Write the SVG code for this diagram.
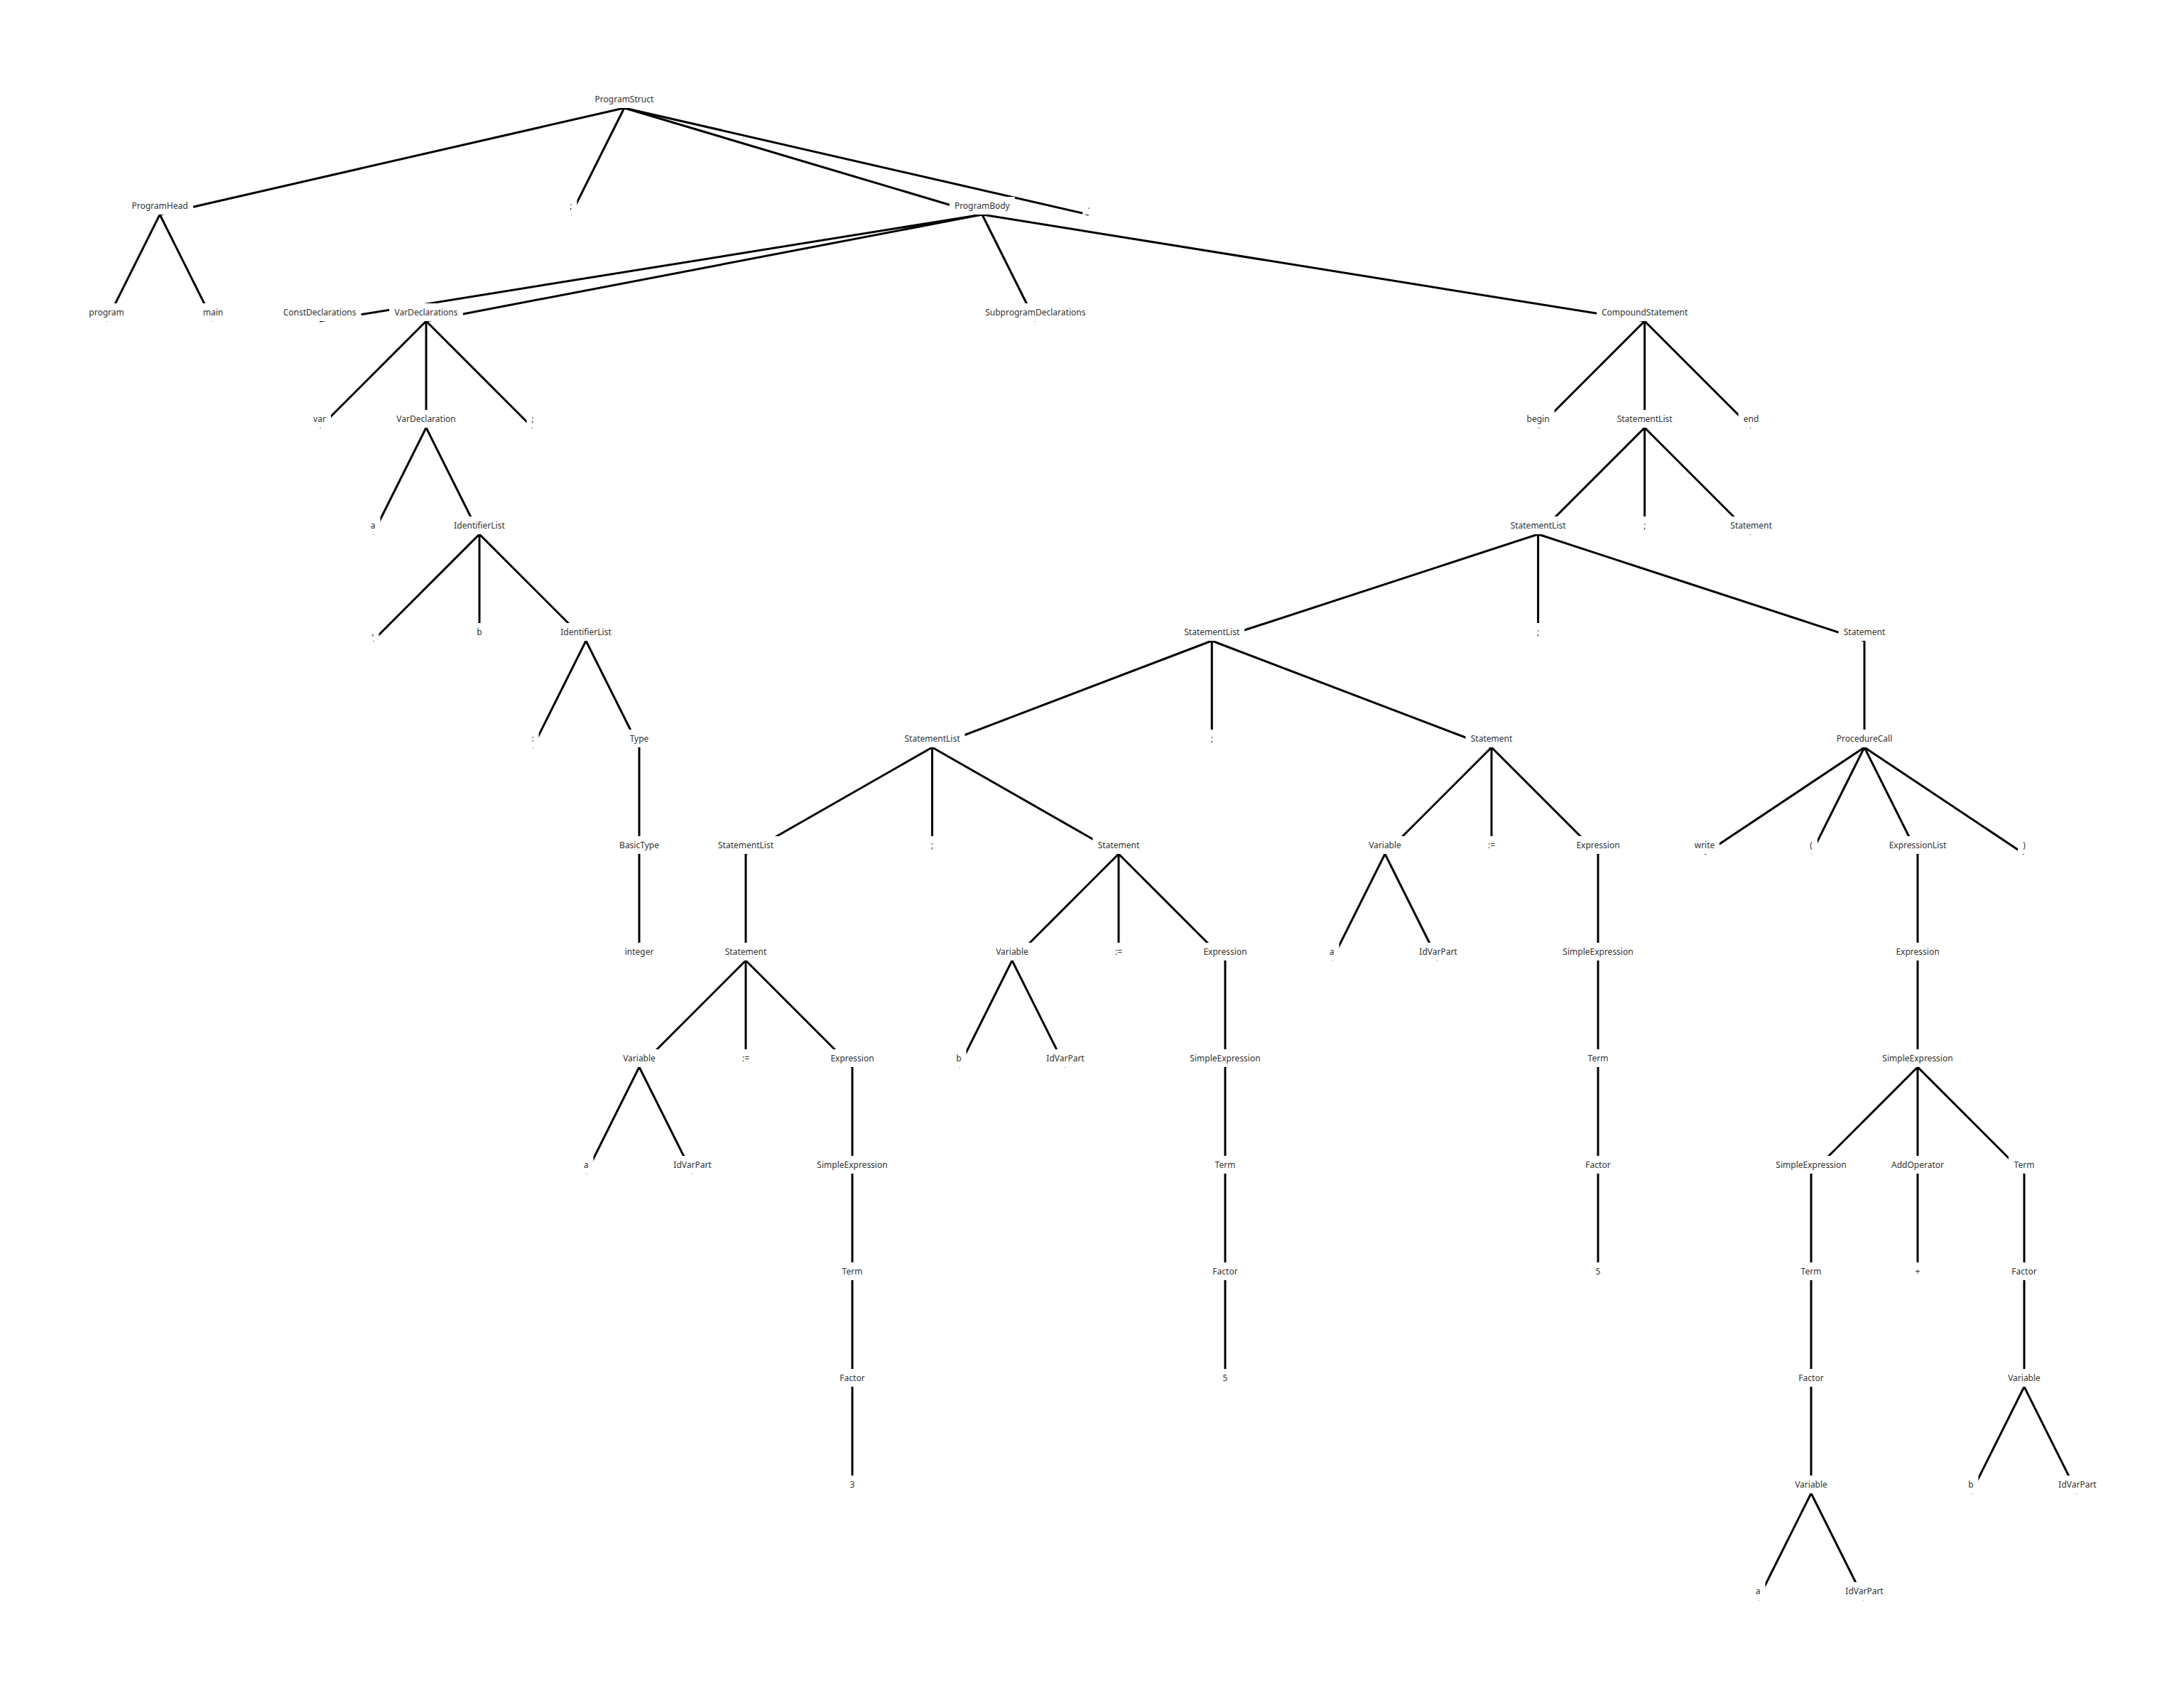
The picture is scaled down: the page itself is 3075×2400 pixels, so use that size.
<svg xmlns="http://www.w3.org/2000/svg" width="3075" height="2400" viewBox="0 0 3075 2400">
<style>
.bg{fill:#ffffff}
#edges line{stroke:#000;stroke-width:3;fill:none}
.node rect{fill:#ffffff;stroke:none}
.node text{font-family:"Noto Sans","Open Sans","Liberation Sans",sans-serif;font-size:12px;fill:#333;text-anchor:middle}
</style>
<rect class="bg" x="0" y="0" width="3075" height="2400"/>
<g id="edges">
<line x1="878.9" y1="152" x2="225" y2="302"/>
<line x1="878.9" y1="152" x2="803.9" y2="302"/>
<line x1="878.9" y1="152" x2="1382.8" y2="302"/>
<line x1="878.9" y1="152" x2="1532.8" y2="302"/>
<line x1="225" y1="302" x2="150" y2="452"/>
<line x1="225" y1="302" x2="300" y2="452"/>
<line x1="1382.8" y1="302" x2="450" y2="452"/>
<line x1="1382.8" y1="302" x2="600" y2="452"/>
<line x1="1382.8" y1="302" x2="1457.8" y2="452"/>
<line x1="1382.8" y1="302" x2="2315.6" y2="452"/>
<line x1="600" y1="452" x2="450" y2="602"/>
<line x1="600" y1="452" x2="600" y2="602"/>
<line x1="600" y1="452" x2="750" y2="602"/>
<line x1="600" y1="602" x2="525" y2="752"/>
<line x1="600" y1="602" x2="675" y2="752"/>
<line x1="675" y1="752" x2="525" y2="902"/>
<line x1="675" y1="752" x2="675" y2="902"/>
<line x1="675" y1="752" x2="825" y2="902"/>
<line x1="825" y1="902" x2="750" y2="1052"/>
<line x1="825" y1="902" x2="900" y2="1052"/>
<line x1="900" y1="1052" x2="900" y2="1202"/>
<line x1="900" y1="1202" x2="900" y2="1352"/>
<line x1="2315.6" y1="452" x2="2165.6" y2="602"/>
<line x1="2315.6" y1="452" x2="2315.6" y2="602"/>
<line x1="2315.6" y1="452" x2="2465.6" y2="602"/>
<line x1="2315.6" y1="602" x2="2165.6" y2="752"/>
<line x1="2315.6" y1="602" x2="2315.6" y2="752"/>
<line x1="2315.6" y1="602" x2="2465.6" y2="752"/>
<line x1="2165.6" y1="752" x2="1706.25" y2="902"/>
<line x1="2165.6" y1="752" x2="2165.6" y2="902"/>
<line x1="2165.6" y1="752" x2="2625" y2="902"/>
<line x1="1706.25" y1="902" x2="1312.5" y2="1052"/>
<line x1="1706.25" y1="902" x2="1706.25" y2="1052"/>
<line x1="1706.25" y1="902" x2="2100" y2="1052"/>
<line x1="1312.5" y1="1052" x2="1050" y2="1202"/>
<line x1="1312.5" y1="1052" x2="1312.5" y2="1202"/>
<line x1="1312.5" y1="1052" x2="1575" y2="1202"/>
<line x1="1050" y1="1202" x2="1050" y2="1352"/>
<line x1="1050" y1="1352" x2="900" y2="1502"/>
<line x1="1050" y1="1352" x2="1050" y2="1502"/>
<line x1="1050" y1="1352" x2="1200" y2="1502"/>
<line x1="900" y1="1502" x2="825" y2="1652"/>
<line x1="900" y1="1502" x2="975" y2="1652"/>
<line x1="1200" y1="1502" x2="1200" y2="1652"/>
<line x1="1200" y1="1652" x2="1200" y2="1802"/>
<line x1="1200" y1="1802" x2="1200" y2="1952"/>
<line x1="1200" y1="1952" x2="1200" y2="2102"/>
<line x1="1575" y1="1202" x2="1425" y2="1352"/>
<line x1="1575" y1="1202" x2="1575" y2="1352"/>
<line x1="1575" y1="1202" x2="1725" y2="1352"/>
<line x1="1425" y1="1352" x2="1350" y2="1502"/>
<line x1="1425" y1="1352" x2="1500" y2="1502"/>
<line x1="1725" y1="1352" x2="1725" y2="1502"/>
<line x1="1725" y1="1502" x2="1725" y2="1652"/>
<line x1="1725" y1="1652" x2="1725" y2="1802"/>
<line x1="1725" y1="1802" x2="1725" y2="1952"/>
<line x1="2100" y1="1052" x2="1950" y2="1202"/>
<line x1="2100" y1="1052" x2="2100" y2="1202"/>
<line x1="2100" y1="1052" x2="2250" y2="1202"/>
<line x1="1950" y1="1202" x2="1875" y2="1352"/>
<line x1="1950" y1="1202" x2="2025" y2="1352"/>
<line x1="2250" y1="1202" x2="2250" y2="1352"/>
<line x1="2250" y1="1352" x2="2250" y2="1502"/>
<line x1="2250" y1="1502" x2="2250" y2="1652"/>
<line x1="2250" y1="1652" x2="2250" y2="1802"/>
<line x1="2625" y1="902" x2="2625" y2="1052"/>
<line x1="2625" y1="1052" x2="2400" y2="1202"/>
<line x1="2625" y1="1052" x2="2550" y2="1202"/>
<line x1="2625" y1="1052" x2="2700" y2="1202"/>
<line x1="2625" y1="1052" x2="2850" y2="1202"/>
<line x1="2700" y1="1202" x2="2700" y2="1352"/>
<line x1="2700" y1="1352" x2="2700" y2="1502"/>
<line x1="2700" y1="1502" x2="2550" y2="1652"/>
<line x1="2700" y1="1502" x2="2700" y2="1652"/>
<line x1="2700" y1="1502" x2="2850" y2="1652"/>
<line x1="2550" y1="1652" x2="2550" y2="1802"/>
<line x1="2550" y1="1802" x2="2550" y2="1952"/>
<line x1="2550" y1="1952" x2="2550" y2="2102"/>
<line x1="2550" y1="2102" x2="2475" y2="2252"/>
<line x1="2550" y1="2102" x2="2625" y2="2252"/>
<line x1="2700" y1="1652" x2="2700" y2="1802"/>
<line x1="2850" y1="1652" x2="2850" y2="1802"/>
<line x1="2850" y1="1802" x2="2850" y2="1952"/>
<line x1="2850" y1="1952" x2="2775" y2="2102"/>
<line x1="2850" y1="1952" x2="2925" y2="2102"/>
</g>
<g id="n0" class="node" transform="translate(878.9,152)"><rect x="-48.5" y="-25" width="97" height="25"/><text y="-8">ProgramStruct</text></g>
<g id="n1" class="node" transform="translate(225,302)"><rect x="-47" y="-25" width="94" height="25"/><text y="-8">ProgramHead</text></g>
<g id="n2" class="node" transform="translate(803.9,302)"><rect x="-8.5" y="-25" width="17" height="25"/><text y="-8">;</text></g>
<g id="n3" class="node" transform="translate(1382.8,302)"><rect x="-46" y="-25" width="92" height="25"/><text y="-8">ProgramBody</text></g>
<g id="n4" class="node" transform="translate(1532.8,302)"><rect x="-8.5" y="-25" width="17" height="25"/><text y="-8">.</text></g>
<g id="n5" class="node" transform="translate(150,452)"><rect x="-32" y="-25" width="64" height="25"/><text y="-8">program</text></g>
<g id="n6" class="node" transform="translate(300,452)"><rect x="-21.5" y="-25" width="43" height="25"/><text y="-8">main</text></g>
<g id="n7" class="node" transform="translate(450,452)"><rect x="-58.5" y="-25" width="117" height="25"/><text y="-8">ConstDeclarations</text></g>
<g id="n8" class="node" transform="translate(600,452)"><rect x="-52" y="-25" width="104" height="25"/><text y="-8">VarDeclarations</text></g>
<g id="n9" class="node" transform="translate(1457.8,452)"><rect x="-78" y="-25" width="156" height="25"/><text y="-8">SubprogramDeclarations</text></g>
<g id="n10" class="node" transform="translate(2315.6,452)"><rect x="-67.5" y="-25" width="135" height="25"/><text y="-8">CompoundStatement</text></g>
<g id="n11" class="node" transform="translate(450,602)"><rect x="-16" y="-25" width="32" height="25"/><text y="-8">var</text></g>
<g id="n12" class="node" transform="translate(600,602)"><rect x="-49" y="-25" width="98" height="25"/><text y="-8">VarDeclaration</text></g>
<g id="n13" class="node" transform="translate(750,602)"><rect x="-8.5" y="-25" width="17" height="25"/><text y="-8">;</text></g>
<g id="n14" class="node" transform="translate(2165.6,602)"><rect x="-23" y="-25" width="46" height="25"/><text y="-8">begin</text></g>
<g id="n15" class="node" transform="translate(2315.6,602)"><rect x="-46" y="-25" width="92" height="25"/><text y="-8">StatementList</text></g>
<g id="n16" class="node" transform="translate(2465.6,602)"><rect x="-18" y="-25" width="36" height="25"/><text y="-8">end</text></g>
<g id="n17" class="node" transform="translate(525,752)"><rect x="-10.5" y="-25" width="21" height="25"/><text y="-8">a</text></g>
<g id="n18" class="node" transform="translate(675,752)"><rect x="-42.5" y="-25" width="85" height="25"/><text y="-8">IdentifierList</text></g>
<g id="n19" class="node" transform="translate(2165.6,752)"><rect x="-46" y="-25" width="92" height="25"/><text y="-8">StatementList</text></g>
<g id="n20" class="node" transform="translate(2315.6,752)"><rect x="-8.5" y="-25" width="17" height="25"/><text y="-8">;</text></g>
<g id="n21" class="node" transform="translate(2465.6,752)"><rect x="-36.5" y="-25" width="73" height="25"/><text y="-8">Statement</text></g>
<g id="n22" class="node" transform="translate(525,902)"><rect x="-8.5" y="-25" width="17" height="25"/><text y="-8">,</text></g>
<g id="n23" class="node" transform="translate(675,902)"><rect x="-10.5" y="-25" width="21" height="25"/><text y="-8">b</text></g>
<g id="n24" class="node" transform="translate(825,902)"><rect x="-42.5" y="-25" width="85" height="25"/><text y="-8">IdentifierList</text></g>
<g id="n25" class="node" transform="translate(1706.25,902)"><rect x="-46" y="-25" width="92" height="25"/><text y="-8">StatementList</text></g>
<g id="n26" class="node" transform="translate(2165.6,902)"><rect x="-8.5" y="-25" width="17" height="25"/><text y="-8">;</text></g>
<g id="n27" class="node" transform="translate(2625,902)"><rect x="-36.5" y="-25" width="73" height="25"/><text y="-8">Statement</text></g>
<g id="n28" class="node" transform="translate(750,1052)"><rect x="-8.5" y="-25" width="17" height="25"/><text y="-8">:</text></g>
<g id="n29" class="node" transform="translate(900,1052)"><rect x="-20.5" y="-25" width="41" height="25"/><text y="-8">Type</text></g>
<g id="n30" class="node" transform="translate(1312.5,1052)"><rect x="-46" y="-25" width="92" height="25"/><text y="-8">StatementList</text></g>
<g id="n31" class="node" transform="translate(1706.25,1052)"><rect x="-8.5" y="-25" width="17" height="25"/><text y="-8">;</text></g>
<g id="n32" class="node" transform="translate(2100,1052)"><rect x="-36.5" y="-25" width="73" height="25"/><text y="-8">Statement</text></g>
<g id="n33" class="node" transform="translate(2625,1052)"><rect x="-46.5" y="-25" width="93" height="25"/><text y="-8">ProcedureCall</text></g>
<g id="n34" class="node" transform="translate(900,1202)"><rect x="-35" y="-25" width="70" height="25"/><text y="-8">BasicType</text></g>
<g id="n35" class="node" transform="translate(1050,1202)"><rect x="-46" y="-25" width="92" height="25"/><text y="-8">StatementList</text></g>
<g id="n36" class="node" transform="translate(1312.5,1202)"><rect x="-8.5" y="-25" width="17" height="25"/><text y="-8">;</text></g>
<g id="n37" class="node" transform="translate(1575,1202)"><rect x="-36.5" y="-25" width="73" height="25"/><text y="-8">Statement</text></g>
<g id="n38" class="node" transform="translate(1950,1202)"><rect x="-30" y="-25" width="60" height="25"/><text y="-8">Variable</text></g>
<g id="n39" class="node" transform="translate(2100,1202)"><rect x="-12" y="-25" width="24" height="25"/><text y="-8">:=</text></g>
<g id="n40" class="node" transform="translate(2250,1202)"><rect x="-37.5" y="-25" width="75" height="25"/><text y="-8">Expression</text></g>
<g id="n41" class="node" transform="translate(2400,1202)"><rect x="-21" y="-25" width="42" height="25"/><text y="-8">write</text></g>
<g id="n42" class="node" transform="translate(2550,1202)"><rect x="-9" y="-25" width="18" height="25"/><text y="-8">(</text></g>
<g id="n43" class="node" transform="translate(2700,1202)"><rect x="-47.5" y="-25" width="95" height="25"/><text y="-8">ExpressionList</text></g>
<g id="n44" class="node" transform="translate(2850,1202)"><rect x="-9" y="-25" width="18" height="25"/><text y="-8">)</text></g>
<g id="n45" class="node" transform="translate(900,1352)"><rect x="-27.5" y="-25" width="55" height="25"/><text y="-8">integer</text></g>
<g id="n46" class="node" transform="translate(1050,1352)"><rect x="-36.5" y="-25" width="73" height="25"/><text y="-8">Statement</text></g>
<g id="n47" class="node" transform="translate(1425,1352)"><rect x="-30" y="-25" width="60" height="25"/><text y="-8">Variable</text></g>
<g id="n48" class="node" transform="translate(1575,1352)"><rect x="-12" y="-25" width="24" height="25"/><text y="-8">:=</text></g>
<g id="n49" class="node" transform="translate(1725,1352)"><rect x="-37.5" y="-25" width="75" height="25"/><text y="-8">Expression</text></g>
<g id="n50" class="node" transform="translate(1875,1352)"><rect x="-10.5" y="-25" width="21" height="25"/><text y="-8">a</text></g>
<g id="n51" class="node" transform="translate(2025,1352)"><rect x="-34" y="-25" width="68" height="25"/><text y="-8">IdVarPart</text></g>
<g id="n52" class="node" transform="translate(2250,1352)"><rect x="-57" y="-25" width="114" height="25"/><text y="-8">SimpleExpression</text></g>
<g id="n53" class="node" transform="translate(2700,1352)"><rect x="-37.5" y="-25" width="75" height="25"/><text y="-8">Expression</text></g>
<g id="n54" class="node" transform="translate(900,1502)"><rect x="-30" y="-25" width="60" height="25"/><text y="-8">Variable</text></g>
<g id="n55" class="node" transform="translate(1050,1502)"><rect x="-12" y="-25" width="24" height="25"/><text y="-8">:=</text></g>
<g id="n56" class="node" transform="translate(1200,1502)"><rect x="-37.5" y="-25" width="75" height="25"/><text y="-8">Expression</text></g>
<g id="n57" class="node" transform="translate(1350,1502)"><rect x="-10.5" y="-25" width="21" height="25"/><text y="-8">b</text></g>
<g id="n58" class="node" transform="translate(1500,1502)"><rect x="-34" y="-25" width="68" height="25"/><text y="-8">IdVarPart</text></g>
<g id="n59" class="node" transform="translate(1725,1502)"><rect x="-57" y="-25" width="114" height="25"/><text y="-8">SimpleExpression</text></g>
<g id="n60" class="node" transform="translate(2250,1502)"><rect x="-22" y="-25" width="44" height="25"/><text y="-8">Term</text></g>
<g id="n61" class="node" transform="translate(2700,1502)"><rect x="-57" y="-25" width="114" height="25"/><text y="-8">SimpleExpression</text></g>
<g id="n62" class="node" transform="translate(825,1652)"><rect x="-10.5" y="-25" width="21" height="25"/><text y="-8">a</text></g>
<g id="n63" class="node" transform="translate(975,1652)"><rect x="-34" y="-25" width="68" height="25"/><text y="-8">IdVarPart</text></g>
<g id="n64" class="node" transform="translate(1200,1652)"><rect x="-57" y="-25" width="114" height="25"/><text y="-8">SimpleExpression</text></g>
<g id="n65" class="node" transform="translate(1725,1652)"><rect x="-22" y="-25" width="44" height="25"/><text y="-8">Term</text></g>
<g id="n66" class="node" transform="translate(2250,1652)"><rect x="-24.5" y="-25" width="49" height="25"/><text y="-8">Factor</text></g>
<g id="n67" class="node" transform="translate(2550,1652)"><rect x="-57" y="-25" width="114" height="25"/><text y="-8">SimpleExpression</text></g>
<g id="n68" class="node" transform="translate(2700,1652)"><rect x="-44" y="-25" width="88" height="25"/><text y="-8">AddOperator</text></g>
<g id="n69" class="node" transform="translate(2850,1652)"><rect x="-22" y="-25" width="44" height="25"/><text y="-8">Term</text></g>
<g id="n70" class="node" transform="translate(1200,1802)"><rect x="-22" y="-25" width="44" height="25"/><text y="-8">Term</text></g>
<g id="n71" class="node" transform="translate(1725,1802)"><rect x="-24.5" y="-25" width="49" height="25"/><text y="-8">Factor</text></g>
<g id="n72" class="node" transform="translate(2250,1802)"><rect x="-10.5" y="-25" width="21" height="25"/><text y="-8">5</text></g>
<g id="n73" class="node" transform="translate(2550,1802)"><rect x="-22" y="-25" width="44" height="25"/><text y="-8">Term</text></g>
<g id="n74" class="node" transform="translate(2700,1802)"><rect x="-10.5" y="-25" width="21" height="25"/><text y="-8">+</text></g>
<g id="n75" class="node" transform="translate(2850,1802)"><rect x="-24.5" y="-25" width="49" height="25"/><text y="-8">Factor</text></g>
<g id="n76" class="node" transform="translate(1200,1952)"><rect x="-24.5" y="-25" width="49" height="25"/><text y="-8">Factor</text></g>
<g id="n77" class="node" transform="translate(1725,1952)"><rect x="-10.5" y="-25" width="21" height="25"/><text y="-8">5</text></g>
<g id="n78" class="node" transform="translate(2550,1952)"><rect x="-24.5" y="-25" width="49" height="25"/><text y="-8">Factor</text></g>
<g id="n79" class="node" transform="translate(2850,1952)"><rect x="-30" y="-25" width="60" height="25"/><text y="-8">Variable</text></g>
<g id="n80" class="node" transform="translate(1200,2102)"><rect x="-10.5" y="-25" width="21" height="25"/><text y="-8">3</text></g>
<g id="n81" class="node" transform="translate(2550,2102)"><rect x="-30" y="-25" width="60" height="25"/><text y="-8">Variable</text></g>
<g id="n82" class="node" transform="translate(2775,2102)"><rect x="-10.5" y="-25" width="21" height="25"/><text y="-8">b</text></g>
<g id="n83" class="node" transform="translate(2925,2102)"><rect x="-34" y="-25" width="68" height="25"/><text y="-8">IdVarPart</text></g>
<g id="n84" class="node" transform="translate(2475,2252)"><rect x="-10.5" y="-25" width="21" height="25"/><text y="-8">a</text></g>
<g id="n85" class="node" transform="translate(2625,2252)"><rect x="-34" y="-25" width="68" height="25"/><text y="-8">IdVarPart</text></g>
</svg>
